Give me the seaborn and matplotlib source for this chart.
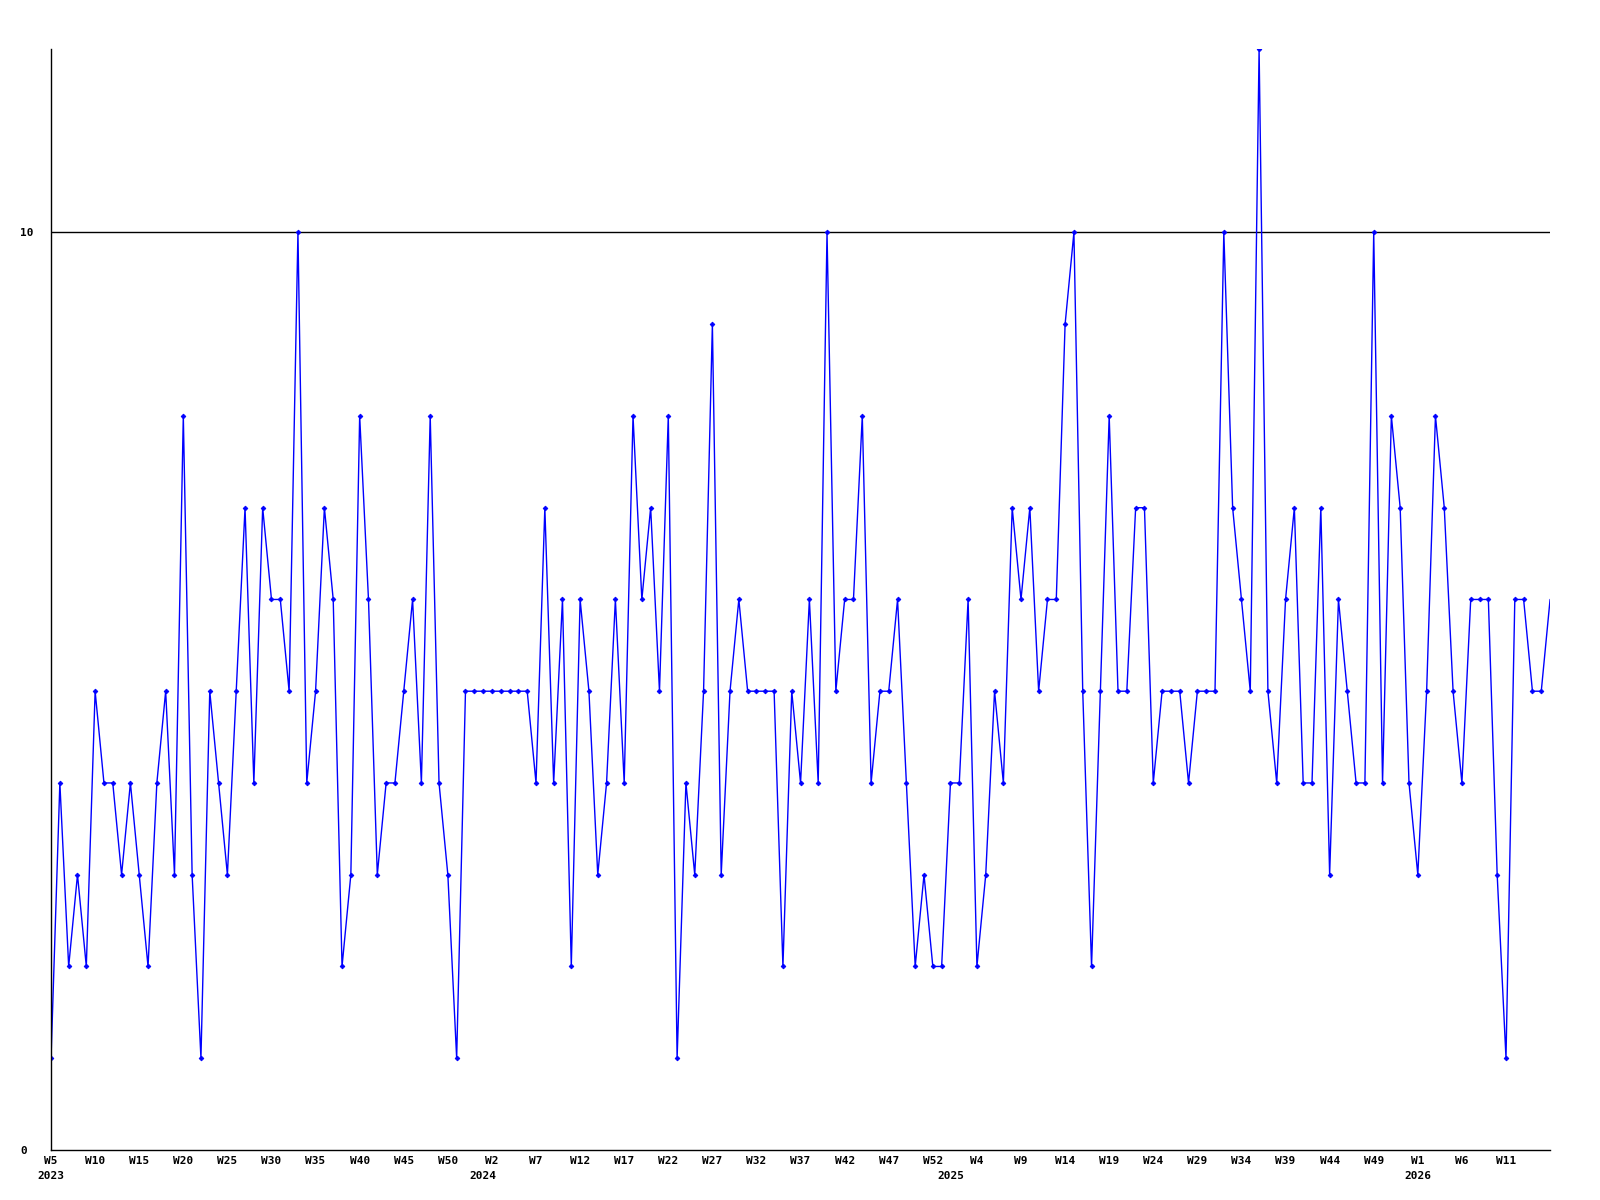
import numpy as np
import pandas as pd
import matplotlib
matplotlib.use("Agg")
import matplotlib.pyplot as plt
import matplotlib.transforms as mtransforms
import seaborn as sns

# Weekly counts, 2023 W5 .. 2026 W16
values = [
    1, 4, 2, 3, 2, 5, 4, 4, 3, 4,
    3, 2, 4, 5, 3, 8, 3, 1, 5, 4,
    3, 5, 7, 4, 7, 6, 6, 5, 10, 4,
    5, 7, 6, 2, 3, 8, 6, 3, 4, 4,
    5, 6, 4, 8, 4, 3, 1, 5, 5, 5,
    5, 5, 5, 5, 5, 4, 7, 4, 6, 2,
    6, 5, 3, 4, 6, 4, 8, 6, 7, 5,
    8, 1, 4, 3, 5, 9, 3, 5, 6, 5,
    5, 5, 5, 2, 5, 4, 6, 4, 10, 5,
    6, 6, 8, 4, 5, 5, 6, 4, 2, 3,
    2, 2, 4, 4, 6, 2, 3, 5, 4, 7,
    6, 7, 5, 6, 6, 9, 10, 5, 2, 5,
    8, 5, 5, 7, 7, 4, 5, 5, 5, 4,
    5, 5, 5, 10, 7, 6, 5, 12, 5, 4,
    6, 7, 4, 4, 7, 3, 6, 5, 4, 4,
    10, 4, 8, 7, 4, 3, 5, 8, 7, 5,
    4, 6, 6, 6, 3, 1, 6, 6, 5, 5,
    6,
]

week_tick_labels = [
    "W5", "W10", "W15", "W20", "W25", "W30", "W35", "W40", "W45", "W50",
    "W2", "W7", "W12", "W17", "W22", "W27", "W32", "W37", "W42", "W47", "W52",
    "W4", "W9", "W14", "W19", "W24", "W29", "W34", "W39", "W44", "W49",
    "W1", "W6", "W11",
]
years = ["2023", "2024", "2025", "2026"]
year_start_index = [0, 49, 102, 155]

y_tick_values = [0, 10]
y_tick_labels = ["0", "10"]

df = pd.DataFrame({"week": np.arange(len(values)), "count": values})

sns.set_theme(style="white")
plt.rcParams["font.family"] = ["DejaVu Sans Mono", "DejaVu Sans"]

fig = plt.figure(figsize=(16, 12), dpi=100)
ax = fig.add_axes([0.0319, 0.0417, 0.9369, 0.9175])

sns.lineplot(
    data=df, x="week", y="count", ax=ax,
    color="#0000ff", linewidth=1.0,
    marker="D", markersize=2.4, markeredgewidth=0.6, markeredgecolor="#0000ff",
    markevery=list(range(len(values) - 1)),
)

ax.axhline(10, color="black", linewidth=1.0, zorder=1)

ax.set_xlim(0, len(values) - 1)
ax.set_ylim(0, 12)

# x ticks every 5 weeks
major_pos = list(range(0, 5 * len(week_tick_labels), 5))
ax.set_xticks(major_pos)
ax.set_xticklabels(week_tick_labels, fontsize=8, fontweight="bold")

# year labels under the first week of each year
trans = mtransforms.blended_transform_factory(ax.transData, ax.transAxes)
for pos, yr in zip(year_start_index, years):
    ax.text(pos, -0.0241, yr, transform=trans, ha="center", va="center",
            fontsize=8, fontweight="bold", color="black")

ax.set_yticks(y_tick_values)
ax.set_yticklabels(y_tick_labels, fontsize=8, fontweight="bold", ha="left")

ax.tick_params(axis="x", which="both", length=0, pad=4.5, colors="black")
ax.tick_params(axis="y", length=0, pad=22, colors="black")

ax.set_xlabel("")
ax.set_ylabel("")
for side in ["top", "right"]:
    ax.spines[side].set_visible(False)
for side in ["left", "bottom"]:
    ax.spines[side].set_color("black")
    ax.spines[side].set_linewidth(1.0)
ax.grid(False)

fig.savefig("out.png", dpi=100, facecolor="white")
